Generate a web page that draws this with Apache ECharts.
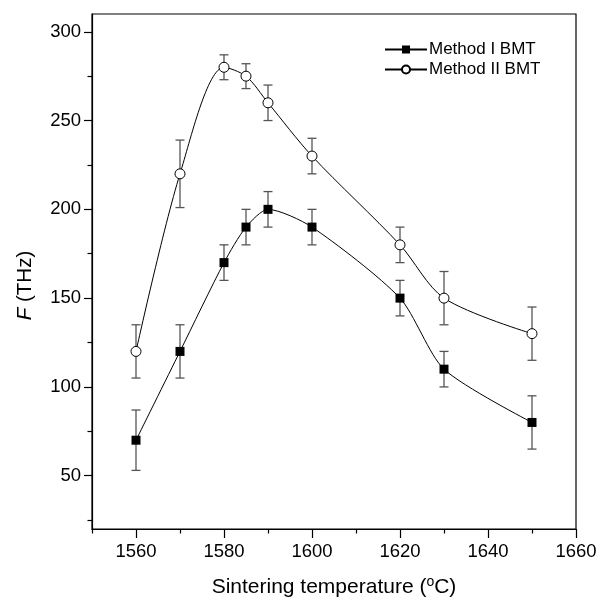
<!DOCTYPE html>
<html>
<head>
<meta charset="utf-8">
<script src="https://cdn.jsdelivr.net/npm/echarts@6/dist/echarts.min.js"></script>
<style>
html,body{margin:0;padding:0;background:#fff;}
#chart{width:612px;height:599px;}
</style>
</head>
<body>
<div id="chart"></div>
<script>
// ---- data ----
const temps = [1560, 1570, 1580, 1585, 1590, 1600, 1620, 1630, 1650];
const method1 = [70, 120, 170, 190, 200, 190, 150, 110, 80];
const method1Err = [17, 15, 10, 10, 10, 10, 10, 10, 15];
const method2 = [120, 220, 280, 275, 260, 230, 180, 150, 130];
const method2Err = [15, 19, 7, 7, 10, 10, 10, 15, 15];
const xMajorTicks = [1560, 1580, 1600, 1620, 1640, 1660];
const xMinorTicks = [1550, 1570, 1590, 1610, 1630, 1650];
const yMajorTicks = [50, 100, 150, 200, 250, 300];
const yMinorTicks = [25, 75, 125, 175, 225, 275];
const seriesNames = ['Method I BMT', 'Method II BMT'];

const FONT = '"Liberation Sans", Arial, sans-serif';

function pts(vals) { return temps.map((t, i) => [t, vals[i]]); }
function errPts(vals, errs) { return temps.map((t, i) => [t, vals[i] - errs[i], vals[i] + errs[i]]); }

function errRender(params, api) {
  const x = api.value(0);
  const lo = api.coord([x, api.value(1)]);
  const hi = api.coord([x, api.value(2)]);
  const w = 4.5;
  const style = { stroke: '#555', lineWidth: 1.3, fill: null };
  return {
    type: 'group',
    children: [
      { type: 'line', shape: { x1: lo[0], y1: lo[1], x2: hi[0], y2: hi[1] }, style },
      { type: 'line', shape: { x1: lo[0] - w, y1: lo[1], x2: lo[0] + w, y2: lo[1] }, style },
      { type: 'line', shape: { x1: hi[0] - w, y1: hi[1], x2: hi[0] + w, y2: hi[1] }, style }
    ]
  };
}

const chart = echarts.init(document.getElementById('chart'), null, { renderer: 'canvas' });

const axisLineStyle = { color: '#000', width: 1.2 };

chart.setOption({
  animation: false,
  backgroundColor: '#fff',
  textStyle: { fontFamily: FONT },
  grid: {
    left: 92, top: 14, right: 36, bottom: 70,
    outerBoundsMode: 'none', containLabel: false,
    show: true, borderColor: '#000', borderWidth: 1.2, backgroundColor: 'transparent'
  },
  legend: {
    data: seriesNames,
    orient: 'vertical',
    left: 379, top: 36,
    itemWidth: 42, itemHeight: 10, itemGap: 3,
    textStyle: { fontSize: 17, color: '#000', fontFamily: FONT, padding: [0, 0, 0, -3] }
  },
  xAxis: [
    {
      type: 'value', min: 1550, max: 1660,
      name: '{a|Sintering temperature (}{sup|o}{a|C)}',
      nameLocation: 'middle', nameGap: 46,
      nameTextStyle: {
        rich: {
          a: { fontSize: 21, color: '#000', fontFamily: FONT },
          sup: { fontSize: 14, color: '#000', fontFamily: FONT, verticalAlign: 'top', padding: [0, 0, 10, 0] }
        }
      },
      axisLine: { show: true, onZero: false, lineStyle: axisLineStyle },
      axisTick: { show: true, customValues: xMajorTicks, length: 9, lineStyle: axisLineStyle },
      axisLabel: { show: true, customValues: xMajorTicks, fontSize: 18.5, color: '#000', margin: 13, fontFamily: FONT,
        formatter: v => String(v) },
      splitLine: { show: false }
    },
    {
      type: 'value', min: 1550, max: 1660, position: 'bottom',
      axisLine: { show: false, onZero: false },
      axisTick: { show: true, customValues: xMinorTicks, length: 4.5, lineStyle: axisLineStyle },
      axisLabel: { show: false },
      splitLine: { show: false }
    }
  ],
  yAxis: [
    {
      type: 'value', min: 20, max: 310,
      name: '{i|F} (THz)',
      nameLocation: 'middle', nameGap: 56,
      nameTextStyle: {
        padding: [0, 28, 0, 0],
        rich: {
          i: { fontSize: 20.5, fontStyle: 'italic', color: '#000', fontFamily: FONT }
        },
        fontSize: 20.5, color: '#000', fontFamily: FONT
      },
      axisLine: { show: true, onZero: false, lineStyle: axisLineStyle },
      axisTick: { show: true, customValues: yMajorTicks, length: 8, lineStyle: axisLineStyle },
      axisLabel: { show: true, customValues: yMajorTicks, fontSize: 18.5, color: '#000', margin: 11, fontFamily: FONT },
      splitLine: { show: false }
    },
    {
      type: 'value', min: 20, max: 310, position: 'left',
      axisLine: { show: false, onZero: false },
      axisTick: { show: true, customValues: yMinorTicks, length: 4.5, lineStyle: axisLineStyle },
      axisLabel: { show: false },
      splitLine: { show: false }
    }
  ],
  series: [
    {
      name: 'err1', type: 'custom', renderItem: errRender,
      encode: { x: 0, y: [1, 2] }, data: errPts(method1, method1Err), z: 1
    },
    {
      name: 'err2', type: 'custom', renderItem: errRender,
      encode: { x: 0, y: [1, 2] }, data: errPts(method2, method2Err), z: 1
    },
    {
      name: seriesNames[0], type: 'line', data: pts(method1), smooth: 0.25,
      symbol: 'rect', symbolSize: 9,
      lineStyle: { color: '#000', width: 1 },
      itemStyle: { color: '#000', borderColor: '#000', borderWidth: 0 },
      z: 3
    },
    {
      name: seriesNames[1], type: 'line', data: pts(method2), smooth: 0.3,
      symbol: 'circle', symbolSize: 10,
      lineStyle: { color: '#000', width: 1 },
      itemStyle: { color: '#fff', borderColor: '#000', borderWidth: 1 },
      z: 3
    }
  ]
});
</script>
</body>
</html>
